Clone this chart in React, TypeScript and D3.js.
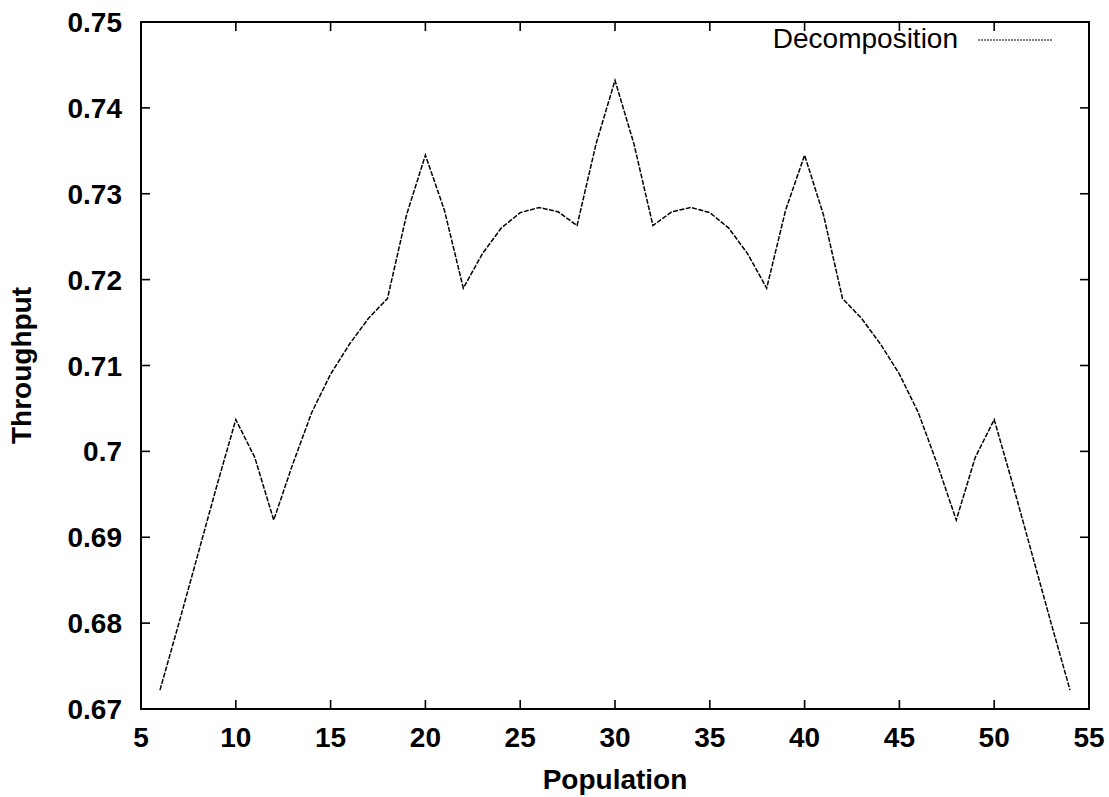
import React, { useRef, useEffect } from "react";
import * as d3 from "d3";

// population values (x) and throughput (y)
const population = [
  6, 7, 8, 9, 10, 11, 12, 13, 14, 15, 16, 17, 18, 19, 20, 21, 22, 23, 24, 25,
  26, 27, 28, 29, 30, 31, 32, 33, 34, 35, 36, 37, 38, 39, 40, 41, 42, 43, 44,
  45, 46, 47, 48, 49, 50, 51, 52, 53, 54,
];
const throughput = [
  0.6722, 0.68, 0.688, 0.696, 0.7037, 0.6993, 0.692, 0.6985, 0.7045, 0.709,
  0.7125, 0.7155, 0.7178, 0.7275, 0.7345, 0.7281, 0.719, 0.723, 0.726, 0.7278,
  0.7284, 0.7279, 0.7263, 0.7358, 0.7432, 0.7358, 0.7263, 0.7279, 0.7284,
  0.7278, 0.726, 0.723, 0.719, 0.7281, 0.7345, 0.7275, 0.7178, 0.7155, 0.7125,
  0.709, 0.7045, 0.6985, 0.692, 0.6993, 0.7037, 0.696, 0.688, 0.68, 0.6722,
];
const xTicks = [5, 10, 15, 20, 25, 30, 35, 40, 45, 50, 55];
const yTicks = [0.67, 0.68, 0.69, 0.7, 0.71, 0.72, 0.73, 0.74, 0.75];
const seriesName = "Decomposition";

const W = 1109;
const H = 797;

const Chart: React.FC = () => {
  const svgRef = useRef<SVGSVGElement | null>(null);

  useEffect(() => {
    const margin = { top: 22, right: 20, bottom: 88, left: 141 };
    const innerW = W - margin.left - margin.right;
    const innerH = H - margin.top - margin.bottom;

    const svg = d3.select(svgRef.current);
    svg.selectAll("*").remove();

    const font = "'Liberation Sans', Arial, Helvetica, sans-serif";

    const x = d3.scaleLinear().domain([5, 55]).range([0, innerW]);
    const y = d3.scaleLinear().domain([0.67, 0.75]).range([innerH, 0]);

    const g = svg
      .append("g")
      .attr("transform", `translate(${margin.left},${margin.top})`);

    // frame
    g.append("rect")
      .attr("width", innerW)
      .attr("height", innerH)
      .attr("fill", "none")
      .attr("stroke", "#000")
      .attr("stroke-width", 2);

    const tickLen = 9;

    // x ticks, bottom + top, pointing inward
    xTicks.forEach((t) => {
      g.append("line")
        .attr("x1", x(t))
        .attr("x2", x(t))
        .attr("y1", innerH)
        .attr("y2", innerH - tickLen)
        .attr("stroke", "#000")
        .attr("stroke-width", 1.6);
      g.append("line")
        .attr("x1", x(t))
        .attr("x2", x(t))
        .attr("y1", 0)
        .attr("y2", tickLen)
        .attr("stroke", "#000")
        .attr("stroke-width", 1.6);
      g.append("text")
        .attr("x", x(t))
        .attr("y", innerH + 38)
        .attr("text-anchor", "middle")
        .style("font-family", font)
        .style("font-size", "28px")
        .style("font-weight", "bold")
        .text(String(t));
    });

    // y ticks, left + right
    yTicks.forEach((t) => {
      g.append("line")
        .attr("x1", 0)
        .attr("x2", tickLen)
        .attr("y1", y(t))
        .attr("y2", y(t))
        .attr("stroke", "#000")
        .attr("stroke-width", 1.6);
      g.append("line")
        .attr("x1", innerW)
        .attr("x2", innerW - tickLen)
        .attr("y1", y(t))
        .attr("y2", y(t))
        .attr("stroke", "#000")
        .attr("stroke-width", 1.6);
      g.append("text")
        .attr("x", -19)
        .attr("y", y(t))
        .attr("dy", "0.36em")
        .attr("text-anchor", "end")
        .style("font-family", font)
        .style("font-size", "28px")
        .style("font-weight", "bold")
        .text(d3.format("")(+t.toFixed(2)));
    });

    // series
    const pts = population.map((p, i) => [p, throughput[i]] as [number, number]);
    const line = d3
      .line<[number, number]>()
      .x((d) => x(d[0]))
      .y((d) => y(d[1]));

    g.append("path")
      .datum(pts)
      .attr("d", line)
      .attr("fill", "none")
      .attr("stroke", "#000")
      .attr("stroke-width", 1.5)
      .attr("stroke-dasharray", "5,1.5");

    // legend
    g.append("text")
      .attr("x", 958 - margin.left)
      .attr("y", 48 - margin.top)
      .attr("text-anchor", "end")
      .style("font-family", font)
      .style("font-size", "28px")
      .text(seriesName);
    g.append("line")
      .attr("x1", 978 - margin.left)
      .attr("x2", 1053 - margin.left)
      .attr("y1", 40 - margin.top)
      .attr("y2", 40 - margin.top)
      .attr("stroke", "#000")
      .attr("stroke-width", 1.2)
      .attr("stroke-dasharray", "2,1");

    // axis titles
    svg
      .append("text")
      .attr("x", margin.left + innerW / 2)
      .attr("y", 789)
      .attr("text-anchor", "middle")
      .style("font-family", font)
      .style("font-size", "28px")
      .style("font-weight", "bold")
      .text("Population");

    svg
      .append("text")
      .attr("transform", `translate(31,${margin.top + innerH / 2}) rotate(-90)`)
      .attr("text-anchor", "middle")
      .style("font-family", font)
      .style("font-size", "28px")
      .style("font-weight", "bold")
      .text("Throughput");
  }, []);

  return (
    <svg
      ref={svgRef}
      width={W}
      height={H}
      style={{ position: "absolute", left: 0, top: 0, background: "#fff" }}
    />
  );
};

export default function App() {
  return <Chart />;
}
